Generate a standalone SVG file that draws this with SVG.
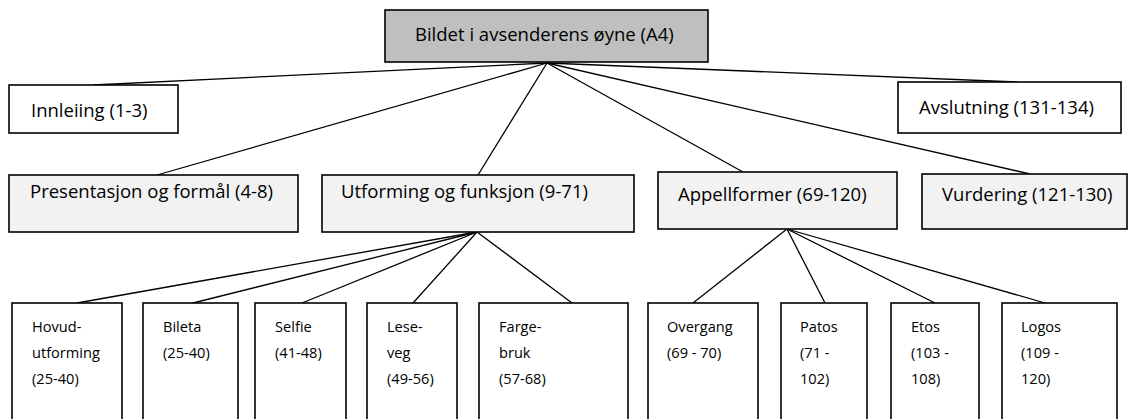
<svg xmlns="http://www.w3.org/2000/svg" width="1131" height="419" viewBox="0 0 1131 419">
<style>
.box{stroke:#000;stroke-width:1.6}
.w{fill:#fff}
.g{fill:#f2f2f2}
.d{fill:#bfbfbf}
.c line{stroke:#000;stroke-width:1.3}
text{font-family:"Open Sans","Liberation Sans",sans-serif;fill:#000}
.t{font-size:18.5px}
.s{font-size:14.6px}
</style>
<rect width="1131" height="419" fill="#fff"/>
<g class="c" id="connectors">
<line x1="547" y1="63" x2="93" y2="85"/>
<line x1="547" y1="63" x2="157" y2="175"/>
<line x1="547" y1="63" x2="478" y2="175"/>
<line x1="547" y1="63" x2="743" y2="172"/>
<line x1="547" y1="63" x2="1030" y2="174"/>
<line x1="547" y1="63" x2="1017" y2="82"/>
<line x1="477" y1="232" x2="77" y2="303"/>
<line x1="477" y1="232" x2="193" y2="303"/>
<line x1="477" y1="232" x2="302" y2="303"/>
<line x1="477" y1="232" x2="413" y2="303"/>
<line x1="477" y1="232" x2="572" y2="303"/>
<line x1="787" y1="229" x2="693" y2="303"/>
<line x1="787" y1="229" x2="825" y2="303"/>
<line x1="787" y1="229" x2="935" y2="303"/>
<line x1="787" y1="229" x2="1045" y2="303"/>
</g>
<g id="root"><rect class="box d" x="385" y="10" width="323" height="52"/><text class="t" x="415" y="41">Bildet i avsenderens øyne (A4)</text></g>
<g id="innleiing"><rect class="box w" x="9" y="85" width="169" height="48"/><text class="t" x="31" y="117">Innleiing (1-3)</text></g>
<g id="avslutning"><rect class="box w" x="898" y="82" width="223" height="51"/><text class="t" x="919" y="114">Avslutning (131-134)</text></g>
<g id="presentasjon"><rect class="box g" x="9" y="175" width="289" height="57"/><text class="t" x="30" y="198">Presentasjon og formål (4-8)</text></g>
<g id="utforming"><rect class="box g" x="322" y="175" width="312" height="57"/><text class="t" x="341" y="198">Utforming og funksjon (9-71)</text></g>
<g id="appellformer"><rect class="box g" x="658" y="172" width="239" height="57"/><text class="t" x="678" y="201">Appellformer (69-120)</text></g>
<g id="vurdering"><rect class="box g" x="922" y="174" width="205" height="55"/><text class="t" x="942" y="201">Vurdering (121-130)</text></g>
<g id="hovud"><rect class="box w" x="12" y="303" width="110" height="130"/><text class="s" x="32" y="332">Hovud-</text><text class="s" x="32" y="358">utforming</text><text class="s" x="32" y="384">(25-40)</text></g>
<g id="bileta"><rect class="box w" x="143" y="303" width="95" height="130"/><text class="s" x="163" y="332">Bileta</text><text class="s" x="163" y="358">(25-40)</text></g>
<g id="selfie"><rect class="box w" x="255" y="303" width="91" height="130"/><text class="s" x="275" y="332">Selfie</text><text class="s" x="275" y="358">(41-48)</text></g>
<g id="leseveg"><rect class="box w" x="367" y="303" width="90" height="130"/><text class="s" x="387" y="332">Lese-</text><text class="s" x="387" y="358">veg</text><text class="s" x="387" y="384">(49-56)</text></g>
<g id="fargebruk"><rect class="box w" x="479" y="303" width="149" height="130"/><text class="s" x="499" y="332">Farge-</text><text class="s" x="499" y="358">bruk</text><text class="s" x="499" y="384">(57-68)</text></g>
<g id="overgang"><rect class="box w" x="648" y="303" width="110" height="130"/><text class="s" x="667" y="332">Overgang</text><text class="s" x="667" y="358">(69 - 70)</text></g>
<g id="patos"><rect class="box w" x="781" y="303" width="86" height="130"/><text class="s" x="800" y="332">Patos</text><text class="s" x="800" y="358">(71 -</text><text class="s" x="800" y="384">102)</text></g>
<g id="etos"><rect class="box w" x="891" y="303" width="88" height="130"/><text class="s" x="911" y="332">Etos</text><text class="s" x="911" y="358">(103 -</text><text class="s" x="911" y="384">108)</text></g>
<g id="logos"><rect class="box w" x="1002" y="303" width="115" height="130"/><text class="s" x="1021" y="332">Logos</text><text class="s" x="1021" y="358">(109 -</text><text class="s" x="1021" y="384">120)</text></g>
</svg>
